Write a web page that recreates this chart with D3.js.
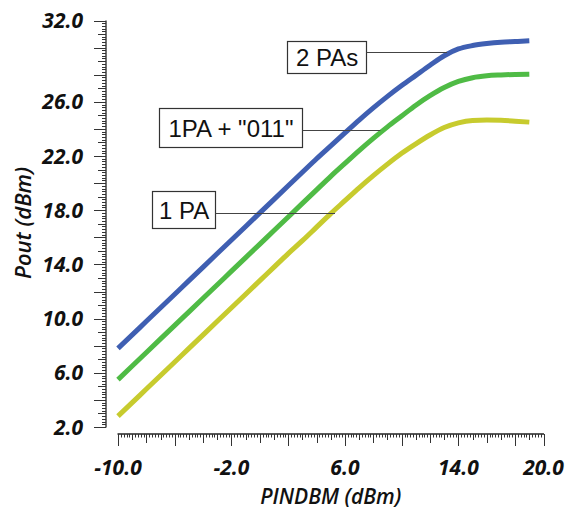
<!DOCTYPE html>
<html>
<head>
<meta charset="utf-8">
<script src="https://cdn.jsdelivr.net/npm/d3@7"></script>
<style>
  html, body { margin: 0; padding: 0; background: #fff; }
  svg { display: block; }
</style>
</head>
<body>
<svg id="chart" width="567" height="509"></svg>
<script>
// Input power sweep (dBm)
const pin = [-10, -9, -8, -7, -6, -5, -4, -3, -2, -1, 0, 1, 2, 3, 4, 5, 6, 7, 8, 9, 10, 11, 12, 13, 14, 15, 16, 17, 18, 19];

// Output power (dBm) for each configuration
const twoPAs = [7.8, 8.8, 9.8, 10.8, 11.8, 12.8, 13.8, 14.8, 15.8, 16.8, 17.8, 18.8, 19.8, 20.8, 21.8, 22.75, 23.7, 24.65, 25.55, 26.4, 27.2, 27.95, 28.7, 29.4, 29.9, 30.15, 30.3, 30.4, 30.45, 30.5];
const onePA011 = [5.5, 6.5, 7.5, 8.5, 9.5, 10.5, 11.5, 12.5, 13.5, 14.5, 15.5, 16.5, 17.5, 18.5, 19.5, 20.5, 21.45, 22.4, 23.3, 24.15, 24.95, 25.75, 26.45, 27.05, 27.5, 27.78, 27.92, 27.98, 28.02, 28.04];
const onePA = [2.8, 3.8, 4.8, 5.8, 6.8, 7.8, 8.8, 9.8, 10.8, 11.8, 12.8, 13.8, 14.8, 15.75, 16.75, 17.75, 18.7, 19.65, 20.55, 21.4, 22.2, 22.9, 23.55, 24.1, 24.45, 24.62, 24.65, 24.63, 24.57, 24.5];

const seriesNames = ["2 PAs", "1PA + \"011\"", "1 PA"];
const seriesColors = ["#3f5fb2", "#4fbb45", "#c7cb2e"];

// Tick labels
const xTickLabels = [-10, -2, 6, 14, 20];
const yTickLabels = [2, 6, 10, 14, 18, 22, 26, 32];

// Annotation anchors in data units: box left edge, box centre, leader height, leader end
const noteBoxX = [1.92, -7.1, -7.6];
const noteBoxY = [29.31, 24.1, 18.05];
const noteLeadY = [29.68, 23.92, 17.79];
const noteEndX = [13.2, 8.5, 5.3];

// Annotation box sizes (px)
const noteBoxH = [32, 39, 37];
const notePad = [8.5, 9, 6.5];

const svg = d3.select("#chart");
const x = d3.scaleLinear().domain([-10, 20]).range([118, 543.5]);
const y = d3.scaleLinear().domain([2, 32]).range([427, 20.5]);

const axisX = 434;   // vertical position of the horizontal axis line
const axisY = 106;   // horizontal position of the vertical axis line
const fontAxis = "'Open Sans', 'Noto Sans', sans-serif";
const fmt = d => d.toFixed(1);

// ---- Y axis ----
const gy = svg.append("g");
gy.append("line").attr("x1", axisY).attr("x2", axisY)
  .attr("y1", y(32)).attr("y2", y(2) + 0.5)
  .attr("stroke", "#222").attr("stroke-width", 1.3);
const yMinor = d3.range(0, 151).map(i => 2 + i * 0.2);
gy.selectAll("line.t").data(yMinor).join("line")
  .attr("class", "t")
  .attr("x1", d => {
    const r = Math.round(d * 5) / 5;
    if (Math.abs(r % 2) < 1e-6) return axisY - 12;
    if (Math.abs(r % 1) < 1e-6) return axisY - 8;
    return axisY - 4;
  })
  .attr("x2", axisY)
  .attr("y1", d => Math.round(y(d)) + 0.5)
  .attr("y2", d => Math.round(y(d)) + 0.5)
  .attr("stroke", "#333").attr("stroke-width", 1);
gy.selectAll("text").data(yTickLabels).join("text")
  .attr("x", 83).attr("y", d => y(d) + 7.5)
  .attr("text-anchor", "end")
  .attr("font-family", fontAxis).attr("font-style", "italic").attr("font-weight", 700)
  .attr("font-size", 21).attr("fill", "#111")
  .text(fmt);

// ---- X axis ----
const gx = svg.append("g");
gx.append("line").attr("x1", x(-10) - 0.5).attr("x2", x(20) + 0.5)
  .attr("y1", axisX).attr("y2", axisX)
  .attr("stroke", "#222").attr("stroke-width", 1.3);
const xMinor = d3.range(0, 151).map(i => -10 + i * 0.2);
gx.selectAll("line.t").data(xMinor).join("line")
  .attr("class", "t")
  .attr("x1", d => Math.round(x(d)) + 0.5)
  .attr("x2", d => Math.round(x(d)) + 0.5)
  .attr("y1", axisX)
  .attr("y2", d => {
    const r = Math.round(d * 5) / 5;
    if (Math.abs((r + 10) % 4) < 1e-6 || r === 20) return axisX + 12;
    if (Math.abs(r % 2) < 1e-6) return axisX + 9;
    if (Math.abs(r % 1) < 1e-6) return axisX + 6;
    return axisX + 3.5;
  })
  .attr("stroke", "#333").attr("stroke-width", 1);
gx.selectAll("text").data(xTickLabels).join("text")
  .attr("x", d => x(d)).attr("y", 475)
  .attr("text-anchor", "middle")
  .attr("font-family", fontAxis).attr("font-style", "italic").attr("font-weight", 700)
  .attr("font-size", 21).attr("fill", "#111")
  .text(fmt);

// ---- Axis titles ----
svg.append("text")
  .attr("x", (x(-10) + x(20)) / 2).attr("y", 504)
  .attr("text-anchor", "middle")
  .attr("font-family", fontAxis).attr("font-style", "italic").attr("font-weight", 600)
  .attr("font-size", 21).attr("fill", "#111")
  .text("PINDBM (dBm)");
svg.append("text")
  .attr("transform", "translate(31, 223) rotate(-90)")
  .attr("text-anchor", "middle")
  .attr("font-family", fontAxis).attr("font-style", "italic").attr("font-weight", 600)
  .attr("font-size", 22).attr("fill", "#111")
  .text("Pout (dBm)");

// ---- Curves ----
const allSeries = [twoPAs, onePA011, onePA];
const line = d3.line()
  .x((d, i) => x(pin[i]))
  .y(d => y(d))
  .curve(d3.curveMonotoneX);
svg.append("g").selectAll("path").data(allSeries).join("path")
  .attr("d", d => line(d))
  .attr("fill", "none")
  .attr("stroke", (d, i) => seriesColors[i])
  .attr("stroke-width", 5)
  .attr("stroke-linecap", "butt");

// ---- Annotations ----
const gn = svg.append("g");
seriesNames.forEach((name, i) => {
  const g = gn.append("g");
  const bx = Math.round(x(noteBoxX[i])) + 0.5;
  const cy = y(noteBoxY[i]);
  const t = g.append("text")
    .attr("font-family", "'Liberation Sans', Arial, sans-serif")
    .attr("font-size", 24).attr("fill", "#111")
    .attr("x", bx + notePad[i])
    .attr("y", cy + 9)
    .text(name);
  const bw = Math.round(t.node().getComputedTextLength() + notePad[i] * 2);
  const h = noteBoxH[i];
  g.insert("rect", "text")
    .attr("x", bx).attr("y", Math.round(cy - h / 2) + 0.5)
    .attr("width", bw).attr("height", h)
    .attr("fill", "#fff").attr("stroke", "#333").attr("stroke-width", 1.2);
  const ly = Math.round(y(noteLeadY[i])) + 0.5;
  g.append("line")
    .attr("x1", bx + bw).attr("x2", x(noteEndX[i]))
    .attr("y1", ly).attr("y2", ly)
    .attr("stroke", "#444").attr("stroke-width", 1);
});
</script>
</body>
</html>
